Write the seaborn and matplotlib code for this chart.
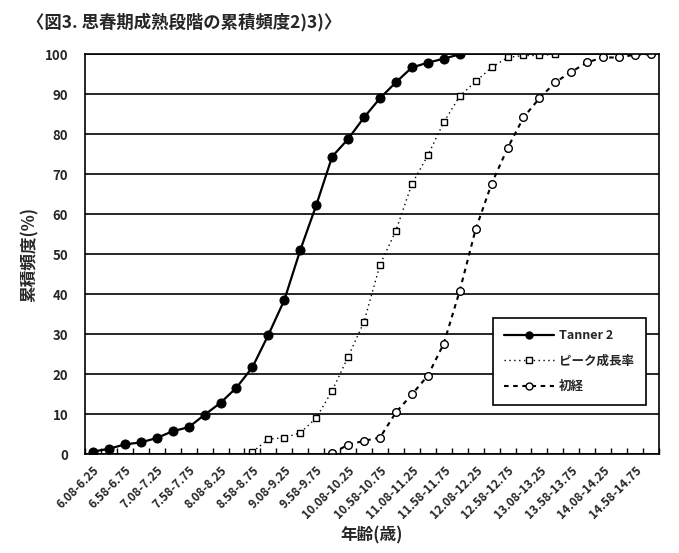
import numpy as np
import pandas as pd
import matplotlib
matplotlib.use("Agg")
import matplotlib.pyplot as plt
from matplotlib.lines import Line2D
import seaborn as sns

# ---- data ----
categories = [
    "6.08-6.25", "6.33-6.50", "6.58-6.75", "6.83-7.00",
    "7.08-7.25", "7.33-7.50", "7.58-7.75", "7.83-8.00",
    "8.08-8.25", "8.33-8.50", "8.58-8.75", "8.83-9.00",
    "9.08-9.25", "9.33-9.50", "9.58-9.75", "9.83-10.00",
    "10.08-10.25", "10.33-10.50", "10.58-10.75", "10.83-11.00",
    "11.08-11.25", "11.33-11.50", "11.58-11.75", "11.83-12.00",
    "12.08-12.25", "12.33-12.50", "12.58-12.75", "12.83-13.00",
    "13.08-13.25", "13.33-13.50", "13.58-13.75", "13.83-14.00",
    "14.08-14.25", "14.33-14.50", "14.58-14.75", "14.83-15.00",
]
nan = np.nan
tanner2 = [0.6, 1.3, 2.4, 2.9, 4.0, 5.7, 6.7, 9.8, 12.8, 16.6, 21.7, 29.8,
           38.5, 51.0, 62.2, 74.4, 78.8, 84.2, 89.0, 93.0, 96.7, 97.9, 98.9, 100.0,
           nan, nan, nan, nan, nan, nan, nan, nan, nan, nan, nan, nan]
peak_growth = [nan, nan, nan, nan, nan, nan, nan, nan, nan, nan,
               0.5, 3.7, 4.1, 5.3, 9.0, 15.8, 24.3, 33.1, 47.3, 55.9, 67.5, 74.7,
               83.0, 89.5, 93.2, 96.7, 99.2, 99.7, 99.7, 100.0,
               nan, nan, nan, nan, nan, nan]
menarche = [nan, nan, nan, nan, nan, nan, nan, nan, nan, nan, nan, nan, nan, nan, nan,
            0.2, 2.3, 3.3, 4.1, 10.4, 14.9, 19.6, 27.6, 40.8, 56.2, 67.6, 76.5,
            84.2, 89.0, 93.0, 95.6, 98.0, 99.2, 99.2, 99.9, 100.0]
series_names = ["Tanner 2", "ピーク成長率", "初経"]
y_ticks = [0, 10, 20, 30, 40, 50, 60, 70, 80, 90, 100]

df = pd.DataFrame({"category": categories, "Tanner 2": tanner2,
                   "ピーク成長率": peak_growth, "初経": menarche})
df["pos"] = np.arange(len(df))

sns.set_theme(style="white")
plt.rcParams["font.family"] = ["Noto Sans CJK JP", "DejaVu Sans"]

fig = plt.figure(figsize=(6.79, 5.53), dpi=100)
ax = fig.add_axes([85 / 679, 1 - 454 / 553, (659 - 85) / 679, (454 - 54.3) / 553])

dot_style = (0, (1, 2.5))
dash_style = (0, (2.2, 2.2))

sns.lineplot(data=df, x="pos", y="Tanner 2", ax=ax, color="black", lw=1.6,
             marker="o", markersize=6.5, markerfacecolor="black",
             markeredgecolor="black")
sns.lineplot(data=df, x="pos", y="ピーク成長率", ax=ax, color="black", lw=1.0,
             linestyle=dot_style, marker="s", markersize=5,
             markerfacecolor="white", markeredgecolor="black", markeredgewidth=1.0)
sns.lineplot(data=df, x="pos", y="初経", ax=ax, color="black", lw=1.5,
             linestyle=dash_style, marker="o", markersize=5.5,
             markerfacecolor="white", markeredgecolor="black", markeredgewidth=1.0)

ax.set_xlim(-0.5, len(categories) - 0.5)
ax.set_ylim(0, 100)
ax.set_yticks(y_ticks)
ax.set_yticklabels([str(v) for v in y_ticks], fontsize=9.5, fontweight="bold")
ax.yaxis.grid(True, color="black", lw=1.2)
ax.set_axisbelow(True)

label_pos = list(range(0, len(categories), 2))
ax.set_xticks(label_pos)
ax.set_xticklabels([categories[i] for i in label_pos], rotation=45, ha="right",
                   rotation_mode="anchor", fontsize=8.5, fontweight="bold")
ax.set_xticks(np.arange(-0.5, len(categories), 1), minor=True)
ax.tick_params(axis="x", which="major", length=0, pad=7)
ax.tick_params(axis="x", which="minor", direction="in", length=4, width=1, color="black", bottom=True)
ax.tick_params(axis="y", length=0, pad=12)

for s in ax.spines.values():
    s.set_color("black")
    s.set_linewidth(1.2)

ax.set_xlabel("年齢(歳)", fontsize=12, fontweight="bold", labelpad=4)
ax.set_ylabel("累積頻度(%)", fontsize=12, fontweight="bold", labelpad=4)

handles = [
    Line2D([], [], color="black", lw=1.6, marker="o", markersize=5,
           markerfacecolor="black"),
    Line2D([], [], color="black", lw=1.0, linestyle=dot_style, marker="s",
           markersize=5, markerfacecolor="white", markeredgecolor="black"),
    Line2D([], [], color="black", lw=1.5, linestyle=dash_style, marker="o",
           markersize=5, markerfacecolor="white", markeredgecolor="black"),
]
leg = ax.legend(handles, series_names, loc="upper left",
                bbox_to_anchor=(493 / 679, 1 - 318 / 553), bbox_transform=fig.transFigure,
                frameon=True, fancybox=False, edgecolor="black", framealpha=1,
                prop={"weight": "bold", "size": 9}, handlelength=4.0,
                labelspacing=1.0, borderpad=0.9, borderaxespad=0, handletextpad=0.4)
leg.get_frame().set_linewidth(1.2)

fig.text(27 / 679, 1 - 22 / 553, "〈図3. 思春期成熟段階の累積頻度2)3)〉", fontsize=12.5,
         fontweight="bold", ha="left", va="center")

fig.savefig("out.png", dpi=100, facecolor="white")
